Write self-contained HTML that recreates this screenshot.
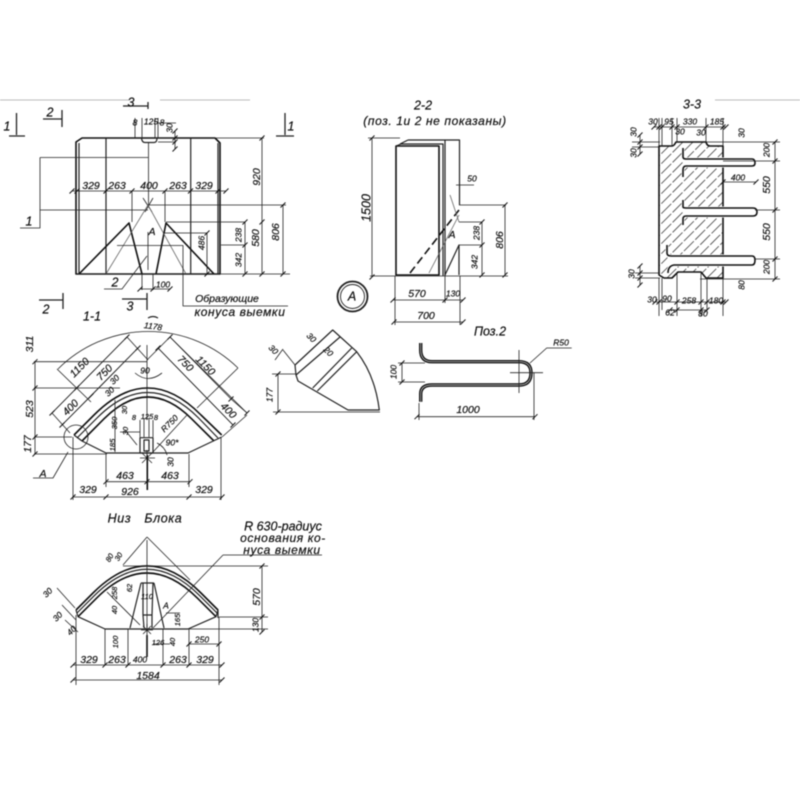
<!DOCTYPE html>
<html><head><meta charset="utf-8"><style>
html,body{margin:0;padding:0;background:#fff}
svg{display:block;filter:blur(.45px)}
text{font-family:"Liberation Sans","DejaVu Sans",sans-serif;font-style:italic;font-size:10.5px;fill:#111;stroke:#111;stroke-width:.2;text-anchor:middle;dominant-baseline:middle}
.b{font-size:12.5px}.s{font-size:8.5px}.xs{font-size:7.5px}
.w{font-size:12px;letter-spacing:.6px}
path,polyline,line,circle{fill:none;stroke:#222;stroke-width:.8;stroke-linejoin:round}
.k{stroke-width:1.6;stroke:#111}.m{stroke-width:1.2}
.g{stroke:#666;stroke-width:.8}
.d{marker-start:url(#t);marker-mid:url(#t);marker-end:url(#t);stroke-width:.8}
</style></head><body>
<svg xmlns="http://www.w3.org/2000/svg" width="800" height="800" viewBox="0 0 800 800">
<defs>
<marker id="t" markerUnits="userSpaceOnUse" markerWidth="8" markerHeight="8" refX="4" refY="4" orient="0"><path d="M1.5 6.5L6.5 1.5" style="stroke:#111;stroke-width:1"/></marker>
<clipPath id="body"><path d="M659,146H672Q674,146 676,142H706Q707,146 710,146H723V278H706L701,272H678L672,278H664L659,275Z"/></clipPath>
</defs>
<rect width="800" height="800" fill="#fff"/>
<path d="M0,100H130M160,100H250M715,100H800" style="stroke:#bbb;stroke-width:1"/>

<!-- FRONT VIEW -->
<path class="k" d="M76,142L82,138H215L220,143V274H76Z"/>
<path class="m" d="M79,143V274M218,143V274"/>
<path class="m" d="M106,138V274M190.700,138V274"/>
<path class="m" d="M141.500,138Q142,142.500 145,142.500H154Q157,142.500 157,138" />
<path d="M148.500,143V205M135,118V138M142,118V138M155,118V138M158,118V138M158,123H176M155,138H176M158,142H176"/>
<polyline class="d" points="175,131 175,138 175,142 175,149"/>
<path d="M40,157.500H148M40,210H148M40,157.500V228H20"/>
<polyline class="d" points="72,191 77,191 106,191 132,191 165,191 190.500,191 218,191 226,191"/>
<path d="M132,191V222M165,191V222M143,198L152,212M153,198L145,212"/>
<path class="k" d="M79,274L129,223L142,274M156,274L166,223L214,274"/>
<path class="g" d="M106,274L148,205L186,274"/>
<path d="M148,205H286M166,222H245M221,245H245M163,233H207M117,245.500H183V306H288M215,138H264M76,274H290"/>
<polyline class="d" points="262,138 262,222 262,274"/>
<polyline class="d" points="283,205 283,274"/>
<polyline class="d" points="245,222 245,245 245,274"/>
<polyline class="d" points="207,233 207,274"/>
<path d="M142,274V290M153,274V290M104,289H122L147,256M148,232V270"/>
<polyline class="d" points="140,289 153,289 170,289"/>
<path d="M123,106H148M148,102V109M43,119H62M62,110V127M16.500,113V135M9,136H25M285,113V135M276,136H294M39,300H63M63,293V309M122,299H147M147,293V310" style="stroke-width:1.3"/>
<text class="b" x="131" y="103">3</text><text class="b" x="50" y="113">2</text><text class="b" x="7" y="127">1</text><text class="b" x="291" y="127">1</text><text class="b" x="46" y="310">2</text><text class="b" x="130" y="307">3</text><text class="b" x="29" y="222">1</text><text class="b" x="115" y="283">2</text>
<text class="s" x="135" y="123">8</text><text class="s" x="151" y="122">125</text><text class="s" x="162" y="123">8</text><text class="s" transform="translate(170,128) rotate(-90)" x="0" y="0">30</text>
<text x="91" y="186">329</text><text x="117" y="186">263</text><text x="149" y="186">400</text><text x="178" y="186">263</text><text x="204" y="186">329</text>
<text transform="translate(257,177) rotate(-90)">920</text><text transform="translate(256,238) rotate(-90)">580</text><text transform="translate(276,232) rotate(-90)">806</text><text class="s" transform="translate(239,235) rotate(-90)">238</text><text class="s" transform="translate(239,260) rotate(-90)">342</text><text class="s" transform="translate(202,243) rotate(-90)">486</text>
<text class="s" x="163" y="285">100</text><text x="152" y="232">А</text>
<text x="227" y="299">Образующие</text><text class="w" x="240" y="313">конуса  выемки</text>
<text class="b" x="92" y="317">1-1</text>

<!-- SECTION 2-2 -->
<path class="k" d="M396,146H439V275H396Z"/>
<path class="m" d="M396,146L401,144H443V276M445,140V276M408,140H459.500V205M400,144L408,140"/>
<path class="k" d="M410,273L459,210" stroke-dasharray="8 4"/>
<path class="g" d="M429,273L459,215M450,195L459,222"/>
<path class="m" d="M445,275L459,245V275"/>
<path d="M370,276H508M368,138H400M459,245H482M459,222H482M459,205H506M456,185H474M395,276V325M445,276V303M460,276V325"/>
<polyline class="d" points="372,138 372,277"/>
<polyline class="d" points="393,300 445,300 463,300"/>
<polyline class="d" points="394,322 463,322"/>
<polyline class="d" points="482,222 482,245 482,275"/>
<polyline class="d" points="505,205 505,275"/>
<text class="b" x="423" y="106">2-2</text><text class="w" x="435" y="122">(поз. 1и 2 не показаны)</text>
<text transform="translate(367,208) rotate(-90)" class="b">1500</text><text class="s" x="472" y="179">50</text>
<text class="s" transform="translate(477,233) rotate(-90)">238</text><text class="s" transform="translate(475,262) rotate(-90)">342</text><text transform="translate(500,240) rotate(-90)">806</text>
<text x="452" y="235">А</text><text x="417" y="294">570</text><text class="s" x="453" y="294">130</text><text x="426" y="316">700</text>
<circle cx="352.500" cy="296.500" r="15" style="stroke-width:1.8"/><circle cx="352.500" cy="296.500" r="12" style="stroke-width:.9"/>
<text class="b" x="352" y="297">А</text>

<!-- SECTION 3-3 -->
<g clip-path="url(#body)">
<path style="stroke:#555;stroke-width:.9" d="M650,155L670,135M650,165L680,135M650,175L690,135M650,185L700,135M650,195L710,135M650,205L720,135M650,215L730,135M650,225L730,145M650,235L730,155M650,245L730,165M650,255L730,175M650,265L730,185M650,275L730,195M650,285L730,205M655,290L730,215M665,290L730,225M675,290L730,235M685,290L730,245M695,290L730,255M705,290L730,265M715,290L730,275" stroke-dasharray="14 2"/>
</g>
<path class="k" d="M659,146H672Q674,146 676,142H706Q707,146 710,146H723V278H706L701,272H678L672,278H664L659,275Z" style="fill:none"/>
<path d="M683,148V157Q683,159 686,159H752Q755,159 755,163Q755,166 752,166H686Q683,166 683,170V177" style="stroke:#fff;stroke-width:3;fill:#fff"/>
<path d="M683,200V207Q683,208 686,208H753Q757,208 757,212Q757,216 753,216H686Q683,216 683,219V225" style="stroke:#fff;stroke-width:3;fill:#fff"/>
<path d="M667,245V253Q667,256 671,256H752Q755,256 755,260Q755,265 752,265H674Q668,266 668,273" style="stroke:#fff;stroke-width:3;fill:#fff"/>
<path class="k" d="M683,148V157Q683,159 686,159H752Q755,159 755,163Q755,166 752,166H686Q683,166 683,170V177"/>
<path class="k" d="M683,200V207Q683,208 686,208H753Q757,208 757,212Q757,216 753,216H686Q683,216 683,219V225"/>
<path class="k" d="M667,245V253Q667,256 671,256H752Q755,256 755,260Q755,265 752,265H674Q668,266 668,273"/>
<path d="M659,118V146M662,118V146M672,118V146M677,118V142M706,118V142M723,118V146M706,142H780M723,161H780M755,210H780M755,259H780M700,279H780M632,142H660M632,147H660M635,273H660M635,278H660M659,278V316M662,278V310M677,272V316M701,272V316M707,278V310M723,278V316"/>
<polyline class="d" points="654,127 659,127 662,127 672,127 677,127 706,127 723,127 726,127"/>
<polyline class="d" points="775,142 775,161 775,210 775,259 775,279"/>
<polyline class="d" points="723,182 756,182"/>
<polyline class="d" points="640,135 640,142 640,147 640,154"/>
<polyline class="d" points="640,266 640,273 640,278 640,285"/>
<polyline class="d" points="655,302 659,302 677,302 701,302 707,302 723,302 726,302"/>
<polyline class="d" points="670,310 677,310 701,310 707,310"/>
<text class="b" x="692" y="105">3-3</text>
<text class="s" x="653" y="122">30</text><text class="s" x="669" y="122">95</text><text class="s" x="690" y="122">330</text><text class="s" x="717" y="122">185</text><text class="s" x="680" y="132">30</text><text class="s" x="701" y="133">30</text>
<text class="s" transform="translate(742,133) rotate(-90)">30</text><text class="s" transform="translate(634,132) rotate(-90)">30</text><text class="s" transform="translate(634,153) rotate(-90)">30</text><text class="s" transform="translate(632,274) rotate(-90)">30</text>
<text class="s" x="738" y="178">400</text><text transform="translate(767,150) rotate(-90)" class="s">200</text><text transform="translate(767,185) rotate(-90)">550</text><text transform="translate(767,232) rotate(-90)">550</text><text transform="translate(767,267) rotate(-90)" class="s">200</text><text class="s" transform="translate(742,285) rotate(-90)">80</text>
<text class="s" x="652" y="300">30</text><text class="s" x="667" y="299">90</text><text class="s" x="689" y="301">258</text><text class="s" x="716" y="301">180</text><text class="s" x="670" y="313">62</text><text class="s" x="703" y="314">80</text>

<!-- PLAN 1-1 -->
<path d="M58,369A128,128 0 0 1 238,368"/>
<path d="M52,413L127,337M62,425L138,348M57,369L91,402M127,337L148,360M52,413L70,433M170,337L247,413M158,348L233,425M238,368L197,408M170,337L147,360M247,415L222,437"/>
<path class="d" d="M52,413L76.700,388L127,337" style="fill:none"/>
<path class="d" d="M62,425L91,396L138,348"/>
<path class="d" d="M170,337L231,399L247,413"/>
<path class="d" d="M158,348L233,425"/>
<path d="M34,361.700H147M34,388H120M34,437H72M34,454H107M147,345V420M135,373Q148,384 162,373"/>
<polyline class="d" points="35,361.700 35,388 35,437 35,454"/>
<path class="k" d="M74,435L94,415Q147.800,361 201,415L221.700,435"/>
<path class="m" d="M77,438L97,418Q147.800,367 198.600,418L218,438"/>
<path class="k" d="M82,441L104,418.800Q147.800,375.200 191.600,418.800L214,441"/>
<path class="m" d="M74,435L82,441L106,453H188L221.700,437"/>
<circle cx="76" cy="437" r="12"/>
<path d="M68,452L53,478H33"/>
<path class="m" d="M140,437.700H153V453H140ZM144,440H149V451H144Z"/>
<path d="M140,420V437M153,420V437M144,418V437M149,418V437M120,432H140M125,430L137,445M153,452L187,415M157,443Q165,447 167,455M140,458L155,458M147,450V464M142,453L152,463M152,453L142,463"/>
<path class="k" d="M147.300,455V490"/>
<path d="M73,437V500M106,454V487M189,454V487M221,437V500M115,400V452"/>
<polyline class="d" points="106,481.700 147,481.700 190,481.700"/>
<polyline class="d" points="73,497 106,497 189,497 222,497"/>
<text class="s" x="153" y="327" transform="rotate(8 153 327)">1178</text><path class="m" d="M148,318Q153,315 158,318"/>
<text transform="translate(80,368) rotate(-45)">1150</text><text transform="translate(105,373) rotate(-45)">750</text><text transform="translate(71,408) rotate(-45)">400</text>
<text transform="translate(185,364) rotate(45)">750</text><text transform="translate(205,366) rotate(45)">1150</text><text transform="translate(228,411) rotate(45)">400</text>
<text class="s" x="145" y="371">90</text>
<text class="s" transform="translate(115,380) rotate(-45)">30</text><text class="s" transform="translate(110,392) rotate(-45)">30</text>
<text transform="translate(30,344) rotate(-90)">311</text><text transform="translate(30,409) rotate(-90)">523</text><text transform="translate(28,444) rotate(-90)">177</text>
<text class="xs" transform="translate(125,410) rotate(-90)">30</text><text class="xs" transform="translate(115,423) rotate(-90)">350</text><text class="xs" transform="translate(113,445) rotate(-90)">185</text><text class="xs" transform="translate(126,431) rotate(-90)">30</text>
<text class="xs" x="134" y="418">8</text><text class="xs" x="147" y="417">125</text><text class="xs" x="156" y="418">8</text>
<text class="s" transform="translate(170,424) rotate(-45)">R750</text><text class="s" x="172" y="443">90*</text><text class="s" transform="translate(171,462) rotate(-90)">30</text>
<text x="125" y="476">463</text><text x="170" y="476">463</text><text x="88" y="490">329</text><text x="130" y="492">926</text><text x="204" y="490">329</text><text x="43" y="474">А</text>

<!-- DETAIL -->
<path class="m" d="M295,365L332.700,330L356.700,351.700Q375,375 379.300,410H348L298,381L296,375Z"/>
<path class="m" d="M296,375L340,337M312.700,388L351.700,348M317.300,391L356.700,351.700"/>
<path d="M272,374H296M273,412H380M275,360L283,349M283,350L295,365"/>
<polyline class="d" points="278,374 278,412"/>
<text class="s" transform="translate(270,395) rotate(-90)">177</text><text class="s" transform="translate(273,350) rotate(45)">30</text><text class="s" transform="translate(311,338) rotate(45)">30</text><text class="s" transform="translate(328,352) rotate(45)">20</text>

<!-- POS 2 -->
<path d="M420.700,343V350Q420.700,361.700 432,361.700H519Q531,361.700 531,373Q531,385 519,385H432Q420.700,385 420.700,394V401.700" style="stroke:#111;stroke-width:3.400"/>
<path d="M420.700,343V350Q420.700,361.700 432,361.700H519Q531,361.700 531,373Q531,385 519,385H432Q420.700,385 420.700,394V401.700" style="stroke:#aaa;stroke-width:.9"/>
<path d="M398,363H425M398,382H425M510,372.700H543M519,350V393M530,363L546.700,348H571.700M419,403V420M534,373V420"/>
<polyline class="d" points="402,363 402,382"/>
<polyline class="d" points="417,416.700 535,416.700"/>
<text class="b" x="490" y="332">Поз.2</text><text class="s" x="561" y="343">R50</text><text class="s" transform="translate(394,372) rotate(-90)">100</text><text x="468" y="410">1000</text>

<!-- BOTTOM VIEW -->
<path class="k" d="M76,610L93,593Q147,539 201,593L218,610"/>
<path class="m" d="M77,613L94.400,595.600Q147,543 199.600,595.600L217,613"/>
<path class="k" d="M78,616.700L96.400,598.300Q147,547.700 197.600,598.300L216,616.700"/>
<path class="m" d="M76,610L78,616.700L105,629H188L216,616.700L218,610V618"/>
<path d="M147,537L123,565M147,537L190,580M223,555H322M223,555L153,628M123,566H268M219,617H268M188,629H268M147,540V628M107,592L140,625M76,615V685M105,629V665M128,629V665M163,629V665M189,629V665M219,617V685M57,588L75,608M62,605L76,620M65,620L78,632M166,613H180"/>
<path d="M141,583H154M141,583L130,628M154,583L164,628M143,583V615L144,628M153,583L152,615L152,628M143,615H152" class="m"/>
<polyline class="d" points="262,566 262,617 262,632"/>
<polyline class="d" points="73,665 105,665 128,665 163,665 189,665 222,665"/>
<polyline class="d" points="73,680 222,680"/>
<polyline class="d" points="189,644 219,644"/>
<path class="k" d="M147,635V657"/><path d="M141,630H153M147,624V636M143,626L151,634M151,626L143,634M153,644H170"/>
<text class="b" x="145" y="519" style="word-spacing:9px;letter-spacing:.6px">Низ Блока</text>
<text x="283" y="527" class="b">R 630-радиус</text><text x="283" y="539" class="w">основания ко-</text><text x="282" y="551" class="w">нуса выемки</text>
<text transform="translate(257,597) rotate(-90)">570</text><text class="s" transform="translate(256,625) rotate(-90)">130</text>
<text x="89" y="660">329</text><text x="117" y="660">263</text><text class="s" x="140" y="660">400</text><text x="178" y="660">263</text><text x="205" y="660">329</text><text x="148" y="676">1584</text><text class="s" x="202" y="640">250</text>
<text class="s" transform="translate(48,593) rotate(-45)">30</text><text class="s" transform="translate(58,617) rotate(-45)">30</text><text class="s" transform="translate(72,631) rotate(-45)">40</text>
<text class="xs" transform="translate(110,558) rotate(-60)">80</text><text class="xs" transform="translate(119,557) rotate(-60)">30</text>
<text class="xs" transform="translate(116,642) rotate(-90)">100</text><text class="xs" x="158" y="643">126</text><text class="xs" transform="translate(173,642) rotate(-90)">40</text><text class="xs" transform="translate(178,620) rotate(-90)">165</text><text class="xs" transform="translate(130,588) rotate(-90)">62</text><text class="xs" transform="translate(115,593) rotate(-90)">258</text><text class="xs" transform="translate(115,610) rotate(-90)">40</text><text class="xs" x="147" y="597">110</text><text class="s" x="166" y="606">А</text>
</svg>
</body></html>
